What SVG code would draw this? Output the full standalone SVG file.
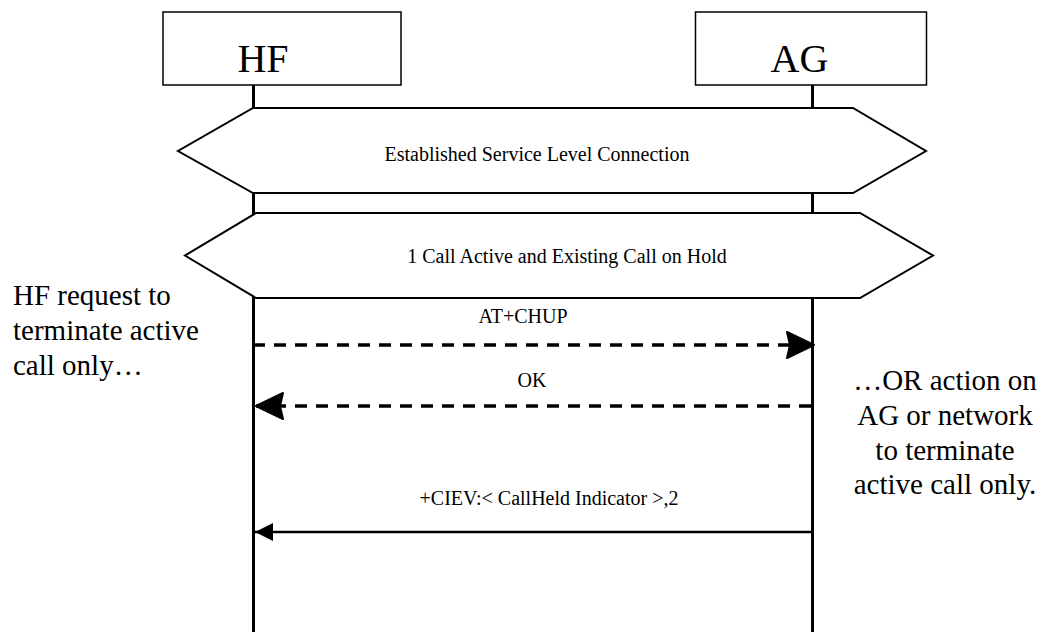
<svg xmlns="http://www.w3.org/2000/svg" width="1048" height="632" viewBox="0 0 1048 632">
<style>
text{font-family:"Liberation Serif","Times New Roman",serif;fill:#000}
.box{fill:#fff;stroke:#000;stroke-width:1.5}
.life{stroke:#000;stroke-width:3;fill:none}
.hex{fill:#fff;stroke:#000;stroke-width:2;stroke-linejoin:miter}
.title{font-size:40px;text-anchor:middle}
.lbl{font-size:20px;text-anchor:middle}
.note{font-size:29px}
.dash{stroke:#000;stroke-width:3.5;stroke-dasharray:12 9;fill:none}
.solid{stroke:#000;stroke-width:2.5;fill:none}
</style>
<defs>
<marker id="headDash" markerUnits="userSpaceOnUse" viewBox="-32 -16 34 32" markerWidth="34" markerHeight="32" refX="0" refY="0" orient="auto">
<path d="M0,0 L-27,-13 L-24,0 L-27,13 Z" fill="#000" stroke="#000" stroke-width="2" stroke-linejoin="round" stroke-dasharray="none"/>
</marker>
<marker id="headSolid" markerUnits="userSpaceOnUse" viewBox="-20 -10 22 20" markerWidth="22" markerHeight="20" refX="0" refY="0" orient="auto">
<path d="M0,0 L-18,-9 L-18,9 Z" fill="#000" stroke="none"/>
</marker>
</defs>
<rect width="1048" height="632" fill="#fff"/>
<g id="node-hf">
<line class="life" x1="253.5" y1="85" x2="253.5" y2="632"/>
<rect class="box" x="163" y="12" width="238" height="73"/>
<text class="title" x="263" y="72">HF</text>
</g>
<g id="node-ag">
<line class="life" x1="812.5" y1="85" x2="812.5" y2="632"/>
<rect class="box" x="695.5" y="12" width="231" height="73"/>
<text class="title" x="799.5" y="72">AG</text>
</g>
<g id="state-slc">
<polygon class="hex" points="253,108 853,108 926,151 853,193 253,193 178,151"/>
<text class="lbl" x="537" y="161">Established Service Level Connection</text>
</g>
<g id="state-calls">
<polygon class="hex" points="256,213 860,213 933,255.5 860,298 256,298 185,255.5"/>
<text class="lbl" x="567" y="263">1 Call Active and Existing Call on Hold</text>
</g>
<g id="connectors">
<line class="dash" x1="253" y1="345" x2="814" y2="345" marker-end="url(#headDash)"/>
<text class="lbl" x="523" y="323">AT+CHUP</text>
<line class="dash" x1="811" y1="406" x2="256" y2="406" marker-end="url(#headDash)"/>
<text class="lbl" x="532" y="387">OK</text>
<line class="solid" x1="811" y1="532" x2="255" y2="532" marker-end="url(#headSolid)"/>
<text class="lbl" x="549" y="505">+CIEV:&lt; CallHeld Indicator &gt;,2</text>
</g>
<g id="note-hf">
<text class="note" x="13" y="305">HF request to</text>
<text class="note" x="13" y="340">terminate active</text>
<text class="note" x="13" y="375">call only…</text>
</g>
<g id="note-ag">
<text class="note" x="945" y="390" text-anchor="middle">…OR action on</text>
<text class="note" x="945" y="425" text-anchor="middle">AG or network</text>
<text class="note" x="945" y="460" text-anchor="middle">to terminate</text>
<text class="note" x="945" y="494" text-anchor="middle">active call only.</text>
</g>
</svg>
